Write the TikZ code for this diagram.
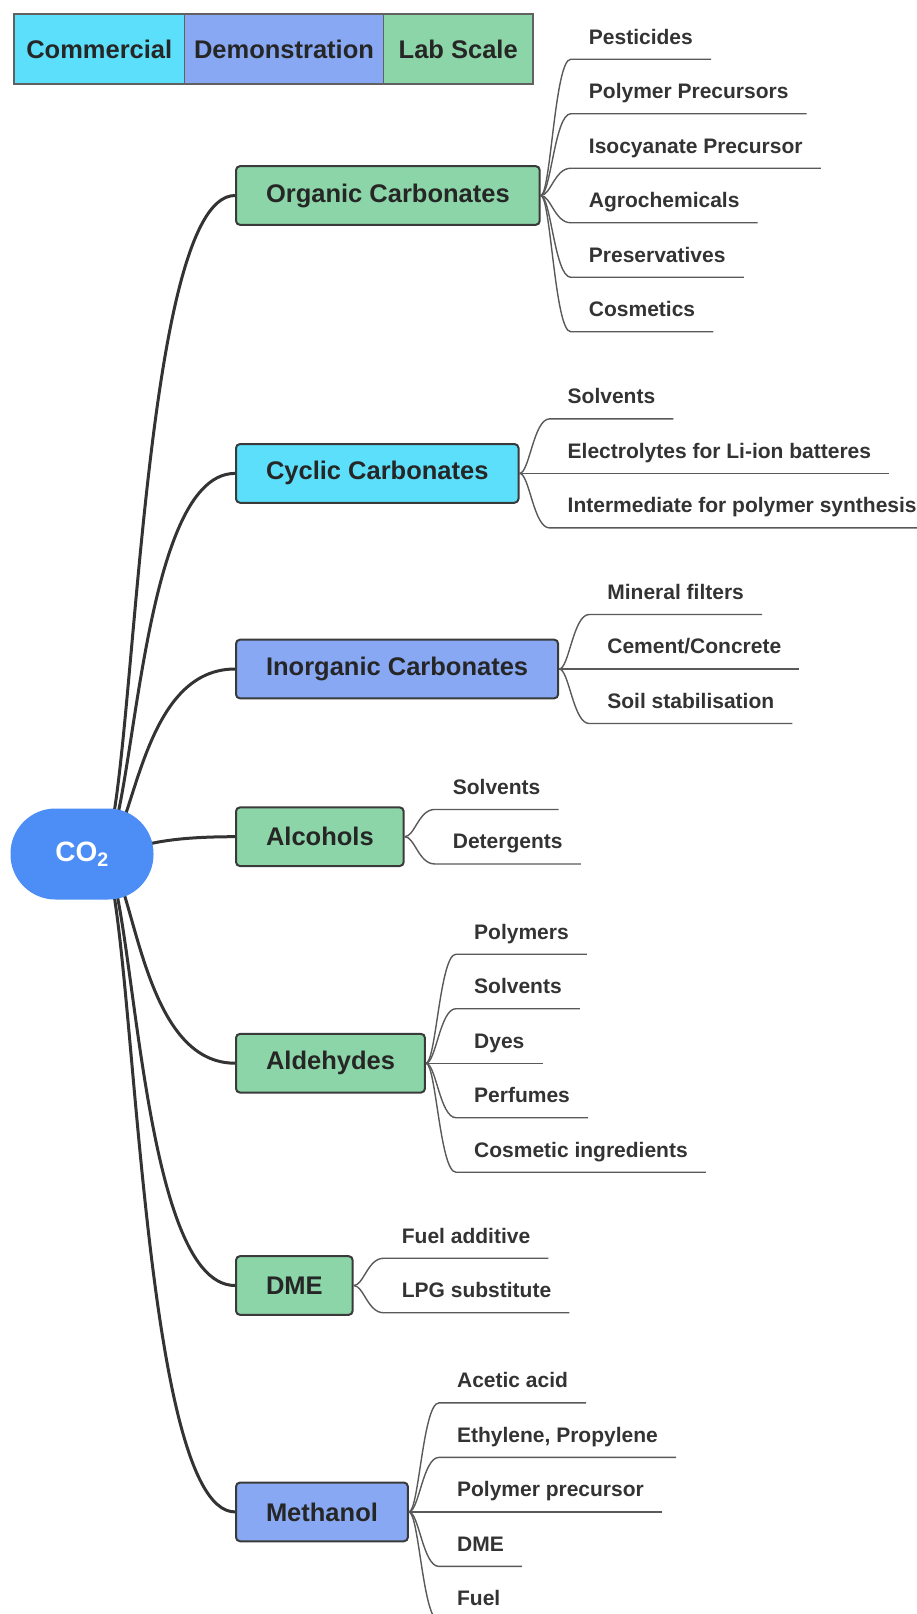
\documentclass[tikz,border=0pt]{standalone}
\usepackage{fontspec}
\setmainfont{Liberation Sans}
\usetikzlibrary{calc,positioning,backgrounds}
\definecolor{commercial}{HTML}{5CDFFA}
\definecolor{demo}{HTML}{88A8F4}
\definecolor{labscale}{HTML}{8BD5A8}
\definecolor{rootblue}{HTML}{4C8DF6}
\definecolor{edgegray}{HTML}{3A3A3A}
\newcommand{\twigs}[3]{%
  \foreach \t [count=\i] in {#3} {
    \node[leaf] (#1\i) at ($(#1.east)+(30,{(\i-(#2+1)/2)*54.5})$) {\t};
    \draw[twig] (#1.east) .. controls ([xshift=10pt]#1.east) and ([xshift=-16pt]#1\i.south west) .. (#1\i.south west) -- (#1\i.south east);
  }}
\begin{document}
\begin{tikzpicture}[x=1pt,y=-1pt,
  legcell/.style={draw=edgegray!80,line width=1.5pt,outer sep=0pt,inner xsep=8pt,minimum height=70pt,
    text=black!85,font=\fontsize{25.5}{30}\selectfont\bfseries},
  rootnode/.style={fill=rootblue,rounded corners=45pt,minimum width=143pt,minimum height=91pt,inner sep=0pt,
    text=white,font=\fontsize{28}{32}\selectfont\bfseries},
  branch/.style={anchor=west,draw=edgegray,line width=2pt,rounded corners=4pt,minimum height=58.7pt,
    inner xsep=30pt,text=black!85,font=\fontsize{25.5}{30}\selectfont\bfseries},
  leaf/.style={anchor=south west,inner xsep=18pt,inner ysep=0pt,text depth=15pt,
    text=black!80,font=\fontsize{21}{25}\selectfont\bfseries},
  trunk/.style={draw=black!80,line width=3pt},
  twig/.style={draw=black!65,line width=1.4pt}]
\useasboundingbox (0,0) rectangle (917,1614);
\clip (0,0) rectangle (917,1614);
% legend
\node[legcell,fill=commercial,minimum width=170.5pt,anchor=north west] (lg1) at (14,14) {Commercial};
\node[legcell,fill=demo,minimum width=199pt,right=0pt of lg1] (lg2) {Demonstration};
\node[legcell,fill=labscale,minimum width=149.5pt,right=0pt of lg2] (lg3) {Lab Scale};
% root and branches
\node[rootnode] (co2) at (82,854) {CO\textsubscript{2}};
\coordinate (root) at ([xshift=18pt]co2.center);
\node[branch,fill=labscale] (oc) at (235,195.5) {Organic Carbonates};
\node[branch,fill=commercial] (cc) at (235,473.4) {Cyclic Carbonates};
\node[branch,fill=demo] (ic) at (235,669) {Inorganic Carbonates};
\node[branch,fill=labscale] (al) at (235,836.7) {Alcohols};
\node[branch,fill=labscale] (ad) at (235,1063.2) {Aldehydes};
\node[branch,fill=labscale] (dm) at (235,1285.5) {DME};
\node[branch,fill=demo] (me) at (235,1511.9) {Methanol};
\begin{scope}[on background layer]
\foreach \n in {oc,cc,ic,al,ad,dm,me}
  \draw[trunk] (root) .. controls ([xshift=35pt]root) and ([xshift=-100pt]\n.west) .. (\n.west);
\end{scope}
% leaves
\twigs{oc}{6}{Pesticides,Polymer Precursors,Isocyanate Precursor,Agrochemicals,Preservatives,Cosmetics}
\twigs{cc}{3}{Solvents,Electrolytes for Li-ion batteres,Intermediate for polymer synthesis}
\twigs{ic}{3}{Mineral filters,Cement/Concrete,Soil stabilisation}
\twigs{al}{2}{Solvents,Detergents}
\twigs{ad}{5}{Polymers,Solvents,Dyes,Perfumes,Cosmetic ingredients}
\twigs{dm}{2}{Fuel additive,LPG substitute}
\twigs{me}{5}{Acetic acid,{Ethylene, Propylene},Polymer precursor,DME,Fuel}
\end{tikzpicture}
\end{document}
